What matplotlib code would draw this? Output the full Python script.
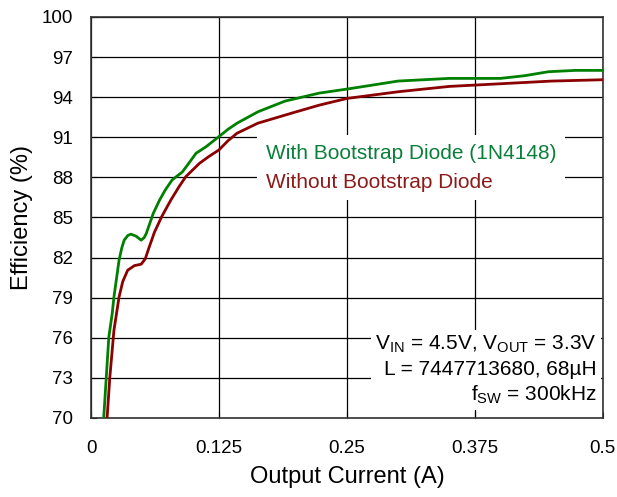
import numpy as np
import matplotlib
matplotlib.use('Agg')
import matplotlib.pyplot as plt

# Curvas (corrente em A, eficiência em %)
corrente_com = [0.0110, 0.0124, 0.0174, 0.0207, 0.0224, 0.0274, 0.0300, 0.0324, 0.0360,
                0.0390, 0.0440, 0.0490, 0.0520, 0.0540, 0.0608, 0.0670, 0.0725, 0.0792,
                0.0892, 0.0960, 0.1026, 0.1126, 0.125, 0.1340, 0.1427, 0.163, 0.1895,
                0.223, 0.25, 0.30, 0.35, 0.40, 0.4235, 0.447, 0.4736, 0.50]
efic_com = [69.0, 70.0, 76.05, 77.8, 79.05, 81.8, 82.7, 83.3, 83.65,
            83.75, 83.6, 83.3, 83.5, 83.8, 85.3, 86.3, 87.05, 87.8,
            88.4, 89.1, 89.8, 90.3, 91.05, 91.6, 92.05, 92.9, 93.7,
            94.3, 94.6, 95.2, 95.4, 95.4, 95.6, 95.9, 96.0, 96.0]

corrente_sem = [0.0150, 0.0157, 0.0184, 0.0224, 0.0274, 0.0310, 0.0358, 0.0425, 0.0490,
                0.0530, 0.0558, 0.0620, 0.0690, 0.0780, 0.0860, 0.0926, 0.106, 0.115,
                0.125, 0.1340, 0.1427, 0.163, 0.196, 0.223, 0.25, 0.30, 0.35, 0.40,
                0.45, 0.50]
efic_sem = [69.0, 70.0, 73.05, 76.55, 79.05, 80.2, 81.05, 81.4, 81.5,
            81.9, 82.55, 83.9, 85.05, 86.3, 87.3, 88.05, 89.05, 89.55,
            90.05, 90.75, 91.3, 92.05, 92.8, 93.4, 93.9, 94.4, 94.8, 95.0,
            95.2, 95.3]

ticks_x = [0, 0.125, 0.25, 0.375, 0.5]
rotulos_x = ['0', '0.125', '0.25', '0.375', '0.5']
ticks_y = list(range(70, 101, 3))

plt.rcParams['font.family'] = ['Liberation Sans', 'DejaVu Sans']
plt.rcParams['mathtext.fontset'] = 'custom'
plt.rcParams['mathtext.rm'] = 'Liberation Sans'
plt.rcParams['mathtext.it'] = 'Liberation Sans'

fig = plt.figure(figsize=(6.17, 4.97), dpi=100)
ax = fig.add_axes([0.1475, 0.159, 0.8295, 0.807])

verde = '#008000'
vermelho = '#8b0000'
l1, = ax.plot(corrente_com, efic_com, color=verde, lw=2.0, zorder=3)
l2, = ax.plot(corrente_sem, efic_sem, color=vermelho, lw=2.0, zorder=3)

ax.set_xlim(0, 0.5)
ax.set_ylim(70, 100)
ax.set_xticks(ticks_x)
ax.set_xticklabels(rotulos_x)
ax.set_yticks(ticks_y)
ax.grid(True, color='black', lw=0.9)
ax.set_axisbelow(True)
ax.tick_params(direction='in', length=4, labelsize=13.5, color='black')
ax.tick_params(axis='x', pad=16)
ax.tick_params(axis='y', pad=13)
for s in ax.spines.values():
    s.set_color('#333333')
    s.set_linewidth(1.2)

ax.set_xlabel('Output Current (A)', fontsize=17, labelpad=6)
ax.set_ylabel('Efficiency (%)', fontsize=17, labelpad=6)

leg = ax.legend([l1, l2], ['With Bootstrap Diode (1N4148)', 'Without Bootstrap Diode'],
                loc='upper left', bbox_to_anchor=(0.325, 0.705), handlelength=0,
                handletextpad=0, fontsize=15, frameon=True, fancybox=False,
                borderpad=0.4, labelspacing=0.5, borderaxespad=0)
leg.get_frame().set_facecolor('white')
leg.get_frame().set_edgecolor('none')
leg.get_frame().set_alpha(1)
for h in leg.legend_handles:
    h.set_visible(False)
leg.get_texts()[0].set_color('#0a7f3a')
leg.get_texts()[1].set_color('#8c1a1a')

anot = ('V$_{\\mathrm{IN}}$ = 4.5V, V$_{\\mathrm{OUT}}$ = 3.3V\n'
        'L = 7447713680, 68\u00b5H\n'
        'f$_{\\mathrm{SW}}$ = 300kHz')
ax.text(0.988, 0.03, anot, transform=ax.transAxes, ha='right', va='bottom',
        multialignment='right', fontsize=15, linespacing=1.3, zorder=4,
        bbox=dict(facecolor='white', edgecolor='none', pad=3))

fig.savefig('out.png', dpi=100)
